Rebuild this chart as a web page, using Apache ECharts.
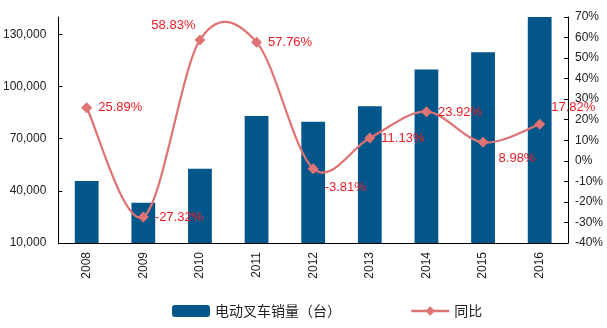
<!DOCTYPE html>
<html><head><meta charset="utf-8">
<script src="https://cdn.jsdelivr.net/npm/echarts@6/dist/echarts.min.js"></script>
<style>html,body{margin:0;padding:0;background:#fff}#c{width:607px;height:328px}</style>
</head><body><div id="c"></div>
<script>
const years = ['2008','2009','2010','2011','2012','2013','2014','2015','2016'];
const sales = [45700, 33200, 52700, 83000, 79700, 88600, 109800, 119700, 141000];
const growth = [25.89, -27.32, 58.83, 57.76, -3.81, 11.13, 23.92, 8.98, 17.82];
const leftTicks = [10000, 40000, 70000, 100000, 130000];
const rightTicks = [-40, -30, -20, -10, 0, 10, 20, 30, 40, 50, 60, 70];
const salesName = '电动叉车销量（台）';
const growthName = '同比';

const labelPlace = [
  {position:'right', offset:[0,0]},
  {position:'right', offset:[0,0]},
  {position:'left', offset:[7,-15]},
  {position:'right', offset:[0,0]},
  {position:'right', offset:[0,19]},
  {position:'right', offset:[0,0]},
  {position:'right', offset:[0,1]},
  {position:'right', offset:[4,16]},
  {position:'right', offset:[0,-17]}
];

const lineColor = '#DF7373';
const chart = echarts.init(document.getElementById('c'));
const axisFont = {fontFamily:'Arial, Liberation Sans', fontSize:12, color:'#222'};

function renderCurve(params, api) {
  const pts = growth.map((v, i) => api.coord([i, v]));
  const n = pts.length;
  const children = [];
  for (let i = 0; i < n - 1; i++) {
    const p0 = pts[Math.max(i - 1, 0)], p1 = pts[i], p2 = pts[i + 1], p3 = pts[Math.min(i + 2, n - 1)];
    children.push({
      type:'bezierCurve',
      shape:{
        x1:p1[0], y1:p1[1], x2:p2[0], y2:p2[1],
        cpx1:p1[0] + (p2[0] - p0[0]) / 6, cpy1:p1[1] + (p2[1] - p0[1]) / 6,
        cpx2:p2[0] - (p3[0] - p1[0]) / 6, cpy2:p2[1] - (p3[1] - p1[1]) / 6
      },
      style:{stroke:lineColor, lineWidth:2.2, fill:null}
    });
  }
  return {type:'group', children};
}

chart.setOption({
  animation:false,
  grid:{left:56, right:39, top:17, bottom:85},
  legend:{
    left:167, top:299, itemWidth:38, itemHeight:12, itemGap:69,
    textStyle:{fontFamily:'Noto Sans CJK SC', fontSize:14, color:'#222'},
    data:[salesName, {name:growthName, lineStyle:{color:lineColor, width:2.5, opacity:1}}]
  },
  xAxis:{
    type:'category', data:years, boundaryGap:true, z:10,
    axisLine:{onZero:false, lineStyle:{color:'#000', width:1}},
    axisTick:{inside:true, length:4, lineStyle:{color:'#000'}},
    axisLabel:Object.assign({rotate:90, margin:9, interval:0}, axisFont)
  },
  yAxis:[
    {type:'value', min:10000, max:140000, interval:30000,
     axisLine:{show:true, lineStyle:{color:'#000'}},
     axisTick:{show:true, inside:true, length:4, customValues:leftTicks, lineStyle:{color:'#000'}},
     splitLine:{show:false},
     axisLabel:Object.assign({margin:12, customValues:leftTicks,
       formatter:v=>v.toLocaleString('en-US')}, axisFont)},
    {type:'value', min:-40, max:70, interval:10,
     axisLine:{show:true, lineStyle:{color:'#000'}},
     axisTick:{show:true, inside:true, length:4, lineStyle:{color:'#000'}},
     splitLine:{show:false},
     axisLabel:Object.assign({margin:7, formatter:v=>v+'%'}, axisFont)}
  ],
  series:[
    {name:salesName, type:'bar', data:sales, barWidth:'42%',
     itemStyle:{color:'#03568A'}},
    {type:'custom', yAxisIndex:1, data:[0], renderItem:renderCurve, z:3, silent:true},
    {name:growthName, type:'line', yAxisIndex:1, z:4,
     symbol:'diamond', symbolSize:11,
     lineStyle:{color:lineColor, width:2.2, opacity:0},
     itemStyle:{color:lineColor},
     data:growth.map((v,i)=>({value:v, label:{show:true, position:labelPlace[i].position, offset:labelPlace[i].offset}})),
     label:{show:true, distance:6, formatter:p=>p.value.toFixed(2)+'%',
       color:'#EE1C25', fontFamily:'Arial, Liberation Sans', fontSize:13}
    }
  ]
});
</script></body></html>
